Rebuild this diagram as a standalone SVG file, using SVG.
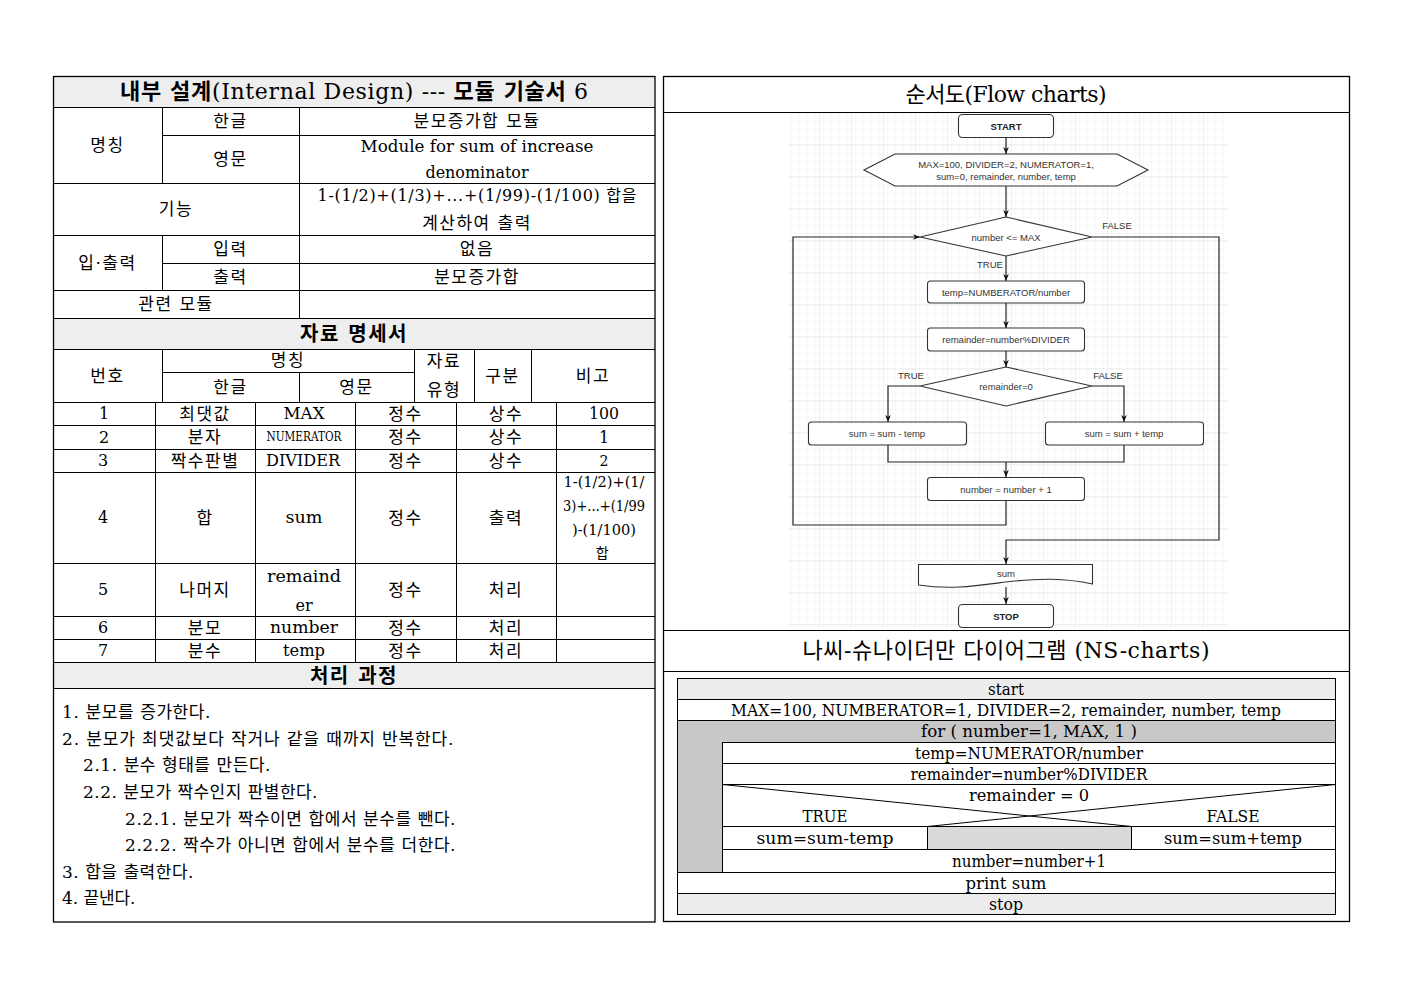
<svg xmlns="http://www.w3.org/2000/svg" width="1403" height="992" viewBox="0 0 1403 992">
<style>
.t{font-family:"DejaVu Serif","Noto Sans CJK KR",serif;font-size:17px;fill:#000;text-anchor:middle;dominant-baseline:central;letter-spacing:1.5px}
.h{font-weight:bold;font-size:20px}
.ti{font-size:22px;letter-spacing:0}
.l{text-anchor:start}
.s{font-size:14px}
.e{font-size:16px;letter-spacing:0}
.ln{stroke:#000;stroke-width:1;fill:none}
.hd{fill:#eeeeee;stroke:none}
.fc{font-family:"Liberation Sans",Arial,sans-serif;font-size:9.5px;fill:#333;text-anchor:middle;dominant-baseline:central}
.fb{font-weight:bold;fill:#222}
.sh{fill:#fff;stroke:#333;stroke-width:1.1}
.cn{fill:none;stroke:#222;stroke-width:1.2}
.ns{font-size:16px;letter-spacing:0}
.nc{stroke:#000;stroke-width:1}
</style>
<defs>
<pattern id="gm" width="8" height="8" patternUnits="userSpaceOnUse" x="788" y="113">
<path d="M8,0 V8 M0,8 H8" stroke="#f1f1f1" stroke-width="1" fill="none"/>
</pattern>
<pattern id="gM" width="32" height="32" patternUnits="userSpaceOnUse" x="788" y="113">
<rect width="32" height="32" fill="url(#gm)"/>
<path d="M32,0 V32 M0,32 H32" stroke="#e3e3e3" stroke-width="1" fill="none"/>
</pattern>
<marker id="ah" viewBox="0 0 10 10" refX="10" refY="5" markerWidth="7" markerHeight="7" markerUnits="userSpaceOnUse" orient="auto">
<path d="M0,1 L10,5 L0,9 L3,5 z" fill="#111"/>
</marker>
</defs>
<rect width="1403" height="992" fill="#fff"/>

<!-- LEFT: module spec -->
<g id="spec-table">
<rect class="hd" x="53" y="76" width="602" height="31"/>
<rect class="hd" x="53" y="318" width="602" height="31"/>
<rect class="hd" x="53" y="662" width="602" height="26"/>
<rect x="53.5" y="76.5" width="601.5" height="845.5" fill="none" stroke="#000" stroke-width="1.3"/>
<path class="ln" d="M53,107.5 H655 M162,135.5 H655 M53,183.5 H655 M53,235.5 H655 M162,263.5 H655 M53,290.5 H655 M53,318.5 H655 M53,349.5 H655 M162,372.5 H414 M53,402.5 H655 M53,425.5 H655 M53,449.5 H655 M53,472.5 H655 M53,563.5 H655 M53,616.5 H655 M53,639.5 H655 M53,662.5 H655 M53,688.5 H655"/>
<path class="ln" d="M162.5,107 V183 M162.5,235 V290 M299.5,107 V318 M162.5,349 V402 M299.5,372 V402 M414.5,349 V402 M474.5,349 V402 M531.5,349 V402 M155.5,402 V662 M255.5,402 V662 M355.5,402 V662 M456.5,402 V662 M556.5,402 V662"/>
<text class="t ti" x="354" y="91" textLength="468" lengthAdjust="spacing"><tspan font-weight="bold">내부 설계</tspan>(Internal Design) --- <tspan font-weight="bold">모듈 기술서</tspan> 6</text>
<text class="t" x="107.5" y="145">명칭</text>
<text class="t" x="230.5" y="121">한글</text>
<text class="t" x="230.5" y="159">영문</text>
<text class="t" x="477" y="121">분모증가합 모듈</text>
<text class="t e" x="477" y="146" textLength="233" lengthAdjust="spacingAndGlyphs">Module for sum of increase</text>
<text class="t e" x="477" y="172" textLength="103" lengthAdjust="spacingAndGlyphs">denominator</text>
<text class="t" x="176" y="209">기능</text>
<text class="t e" x="477" y="195" textLength="319" lengthAdjust="spacing">1-(1/2)+(1/3)+...+(1/99)-(1/100) 합을</text>
<text class="t" x="477" y="223">계산하여 출력</text>
<text class="t" x="107.5" y="263">입·출력</text>
<text class="t" x="230.5" y="249">입력</text>
<text class="t" x="230.5" y="277">출력</text>
<text class="t" x="477" y="249">없음</text>
<text class="t" x="477" y="277">분모증가합</text>
<text class="t" x="176" y="304">관련 모듈</text>
<text class="t h" x="354" y="334">자료 명세서</text>
<text class="t" x="107.5" y="376">번호</text>
<text class="t" x="288" y="360">명칭</text>
<text class="t" x="230.5" y="387">한글</text>
<text class="t" x="356.5" y="387">영문</text>
<text class="t" x="444" y="361">자료</text>
<text class="t" x="444" y="390">유형</text>
<text class="t" x="502.5" y="376">구분</text>
<text class="t" x="593" y="376">비고</text>
<g id="row1">
<text class="t e" x="104" y="413.5">1</text><text class="t" x="205" y="413.5">최댓값</text><text class="t e" x="304" y="413.5" textLength="41" lengthAdjust="spacingAndGlyphs">MAX</text><text class="t" x="405.5" y="413.5">정수</text><text class="t" x="506" y="413.5">상수</text><text class="t e" x="604" y="413.5" textLength="30" lengthAdjust="spacingAndGlyphs">100</text>
</g>
<g id="row2">
<text class="t e" x="104" y="437">2</text><text class="t" x="205" y="437">분자</text><text class="t e" x="304" y="437" style="font-size:12px" textLength="75" lengthAdjust="spacingAndGlyphs">NUMERATOR</text><text class="t" x="405.5" y="437">정수</text><text class="t" x="506" y="437">상수</text><text class="t e" x="604" y="437">1</text>
</g>
<g id="row3">
<text class="t e" x="103" y="460.5">3</text><text class="t" x="205" y="460.5">짝수판별</text><text class="t e" x="303" y="460.5" textLength="74" lengthAdjust="spacingAndGlyphs">DIVIDER</text><text class="t" x="405.5" y="460.5">정수</text><text class="t" x="506" y="460.5">상수</text><text class="t e" x="604" y="460.5" style="font-size:14px">2</text>
</g>
<g id="row4">
<text class="t e" x="103" y="517.5">4</text><text class="t" x="205" y="517.5">합</text><text class="t e" x="304" y="517.5" textLength="37" lengthAdjust="spacingAndGlyphs">sum</text><text class="t" x="405.5" y="517.5">정수</text><text class="t" x="506" y="517.5">출력</text>
<text class="t s e" x="604" y="482" style="font-size:14px" textLength="81" lengthAdjust="spacingAndGlyphs">1-(1/2)+(1/</text>
<text class="t s e" x="604" y="506" style="font-size:14px" textLength="82" lengthAdjust="spacingAndGlyphs">3)+...+(1/99</text>
<text class="t s e" x="604" y="530" style="font-size:14px" textLength="64" lengthAdjust="spacingAndGlyphs">)-(1/100)</text>
<text class="t s" x="603" y="553">합</text>
</g>
<g id="row5">
<text class="t e" x="103" y="589.5">5</text><text class="t" x="205" y="589.5">나머지</text><text class="t e" x="304" y="576" textLength="74" lengthAdjust="spacingAndGlyphs">remaind</text><text class="t e" x="304" y="605">er</text><text class="t" x="405.5" y="589.5">정수</text><text class="t" x="506" y="589.5">처리</text>
</g>
<g id="row6">
<text class="t e" x="103" y="627.5">6</text><text class="t" x="205" y="627.5">분모</text><text class="t e" x="304" y="627.5" textLength="68" lengthAdjust="spacingAndGlyphs">number</text><text class="t" x="405.5" y="627.5">정수</text><text class="t" x="506" y="627.5">처리</text>
</g>
<g id="row7">
<text class="t e" x="103" y="650.5">7</text><text class="t" x="205" y="650.5">분수</text><text class="t e" x="304" y="650.5" textLength="42" lengthAdjust="spacingAndGlyphs">temp</text><text class="t" x="405.5" y="650.5">정수</text><text class="t" x="506" y="650.5">처리</text>
</g>
<text class="t h" x="354" y="675.5">처리 과정</text>
<g id="process">
<text class="t l" x="62" y="711.5" textLength="150" lengthAdjust="spacing">1. 분모를 증가한다.</text>
<text class="t l" x="62" y="738.5" textLength="393" lengthAdjust="spacing">2. 분모가 최댓값보다 작거나 같을 때까지 반복한다.</text>
<text class="t l" x="83" y="765" textLength="189" lengthAdjust="spacing">2.1. 분수 형태를 만든다.</text>
<text class="t l" x="83" y="792" textLength="236" lengthAdjust="spacing">2.2. 분모가 짝수인지 판별한다.</text>
<text class="t l" x="125" y="818.5" textLength="332" lengthAdjust="spacing">2.2.1. 분모가 짝수이면 합에서 분수를 뺀다.</text>
<text class="t l" x="125" y="845" textLength="332" lengthAdjust="spacing">2.2.2. 짝수가 아니면 합에서 분수를 더한다.</text>
<text class="t l" x="62" y="871.5" textLength="133" lengthAdjust="spacing">3. 합을 출력한다.</text>
<text class="t l" x="62" y="898" textLength="75" lengthAdjust="spacing">4. 끝낸다.</text>
</g>
</g>

<!-- RIGHT panel -->
<g id="right-panel">
<rect x="663.5" y="76.5" width="686" height="845" fill="none" stroke="#000" stroke-width="1.3"/>
<path class="ln" d="M663,112.5 H1349 M663,630.5 H1349 M663,671.5 H1349"/>
<text class="t ti" x="1006" y="94" textLength="201" lengthAdjust="spacing">순서도(Flow charts)</text>
<text class="t ti" x="1006" y="650" textLength="407" lengthAdjust="spacing">나씨-슈나이더만 다이어그램 (NS-charts)</text>
</g>

<!-- Flowchart -->
<g id="flowchart">
<rect x="788" y="113" width="439" height="516" fill="url(#gM)"/>
<g id="connectors">
<path class="cn" d="M1006,138 V154" marker-end="url(#ah)"/>
<path class="cn" d="M1006,186 V217" marker-end="url(#ah)"/>
<path class="cn" d="M1092,237 H1219 V540 H1006 V564" marker-end="url(#ah)"/>
<path class="cn" d="M1006,256 V281" marker-end="url(#ah)"/>
<path class="cn" d="M1006,303 V328" marker-end="url(#ah)"/>
<path class="cn" d="M1006,351 V367" marker-end="url(#ah)"/>
<path class="cn" d="M920,386 H888 V422" marker-end="url(#ah)"/>
<path class="cn" d="M1092,386 H1124 V422" marker-end="url(#ah)"/>
<path class="cn" d="M888,445 V462 H1124 V445"/>
<path class="cn" d="M1006,462 V477" marker-end="url(#ah)"/>
<path class="cn" d="M1006,501 V525 H793 V237 H920" marker-end="url(#ah)"/>
<path class="cn" d="M1006,587 V604" marker-end="url(#ah)"/>
<text class="fc" x="1117" y="225">FALSE</text>
<text class="fc" x="990" y="264">TRUE</text>
<text class="fc" x="911" y="375">TRUE</text>
<text class="fc" x="1108" y="375">FALSE</text>
</g>
<g id="fc-start"><rect class="sh" x="958.5" y="114.5" width="95" height="23" rx="4"/><text class="fc fb" x="1006" y="126">START</text></g>
<g id="fc-init"><polygon class="sh" points="864,170 895,154 1117,154 1148,170 1117,186 895,186"/><text class="fc" x="1006" y="164">MAX=100, DIVIDER=2, NUMERATOR=1,</text><text class="fc" x="1006" y="176">sum=0, remainder, number, temp</text></g>
<g id="fc-cond1"><polygon class="sh" points="1006,217 1092,237 1006,256 920,237"/><text class="fc" x="1006" y="237">number &lt;= MAX</text></g>
<g id="fc-temp"><rect class="sh" x="927.5" y="281" width="157" height="22" rx="3"/><text class="fc" x="1006" y="292">temp=NUMBERATOR/number</text></g>
<g id="fc-rem"><rect class="sh" x="927.5" y="328" width="157" height="23" rx="3"/><text class="fc" x="1006" y="339.5">remainder=number%DIVIDER</text></g>
<g id="fc-cond2"><polygon class="sh" points="1006,367 1092,386 1006,406 920,386"/><text class="fc" x="1006" y="386.5">remainder=0</text></g>
<g id="fc-minus"><rect class="sh" x="808.5" y="422" width="158" height="23" rx="3"/><text class="fc" x="887" y="433.5">sum = sum - temp</text></g>
<g id="fc-plus"><rect class="sh" x="1045.5" y="422" width="158" height="23" rx="3"/><text class="fc" x="1124" y="433.5">sum = sum + temp</text></g>
<g id="fc-inc"><rect class="sh" x="927.5" y="477.5" width="157" height="23" rx="3"/><text class="fc" x="1006" y="489">number = number + 1</text></g>
<g id="fc-out"><path class="sh" d="M918.5,564.5 H1092.5 V584 C1065,578 1040,578 1006,582 C975,586 950,590 918.5,585 Z"/><text class="fc" x="1006" y="573">sum</text></g>
<g id="fc-stop"><rect class="sh" x="958.5" y="604.5" width="95" height="23" rx="4"/><text class="fc fb" x="1006" y="616">STOP</text></g>
</g>

<!-- NS chart -->
<g id="ns-chart">
<g id="ns-start"><rect class="nc" x="677.5" y="678.5" width="658" height="21" fill="#ececec"/><text class="t ns" x="1006" y="689" textLength="36" lengthAdjust="spacingAndGlyphs">start</text></g>
<g id="ns-init"><rect class="nc" x="677.5" y="699.5" width="658" height="21" fill="#fff"/><text class="t ns" x="1006" y="710" textLength="550" lengthAdjust="spacingAndGlyphs">MAX=100, NUMBERATOR=1, DIVIDER=2, remainder, number, temp</text></g>
<g id="ns-loop"><path class="nc" d="M677.5,720.5 H1335.5 V742.5 H722.5 V872.5 H677.5 Z" fill="#c8c8c8"/><text class="t ns" x="1029" y="731" textLength="216" lengthAdjust="spacingAndGlyphs">for ( number=1, MAX, 1 )</text></g>
<g id="ns-temp"><rect class="nc" x="722.5" y="742.5" width="613" height="21" fill="#fff"/><text class="t ns" x="1029" y="753" textLength="228" lengthAdjust="spacingAndGlyphs">temp=NUMERATOR/number</text></g>
<g id="ns-rem"><rect class="nc" x="722.5" y="763.5" width="613" height="21" fill="#fff"/><text class="t ns" x="1029" y="774" textLength="237" lengthAdjust="spacingAndGlyphs">remainder=number%DIVIDER</text></g>
<g id="ns-cond"><rect class="nc" x="722.5" y="784.5" width="613" height="42" fill="#fff"/>
<path class="nc" d="M722.5,784.5 L1131.5,826.5 M1335.5,784.5 L927.5,826.5" fill="none"/>
<text class="t ns" x="1029" y="795" textLength="120" lengthAdjust="spacingAndGlyphs">remainder = 0</text>
<text class="t ns" x="825" y="816" textLength="45" lengthAdjust="spacingAndGlyphs">TRUE</text>
<text class="t ns" x="1233" y="816" textLength="53" lengthAdjust="spacingAndGlyphs">FALSE</text></g>
<g id="ns-minus"><rect class="nc" x="722.5" y="826.5" width="205" height="23" fill="#fff"/><text class="t ns" x="825" y="838.5" textLength="137" lengthAdjust="spacingAndGlyphs">sum=sum-temp</text></g>
<g id="ns-empty"><rect class="nc" x="927.5" y="826.5" width="204" height="23" fill="#d9d9d9"/></g>
<g id="ns-plus"><rect class="nc" x="1131.5" y="826.5" width="204" height="23" fill="#fff"/><text class="t ns" x="1233" y="838.5" textLength="138" lengthAdjust="spacingAndGlyphs">sum=sum+temp</text></g>
<g id="ns-inc"><rect class="nc" x="722.5" y="849.5" width="613" height="23" fill="#fff"/><text class="t ns" x="1029" y="861" textLength="154" lengthAdjust="spacingAndGlyphs">number=number+1</text></g>
<g id="ns-print"><rect class="nc" x="677.5" y="872.5" width="658" height="21" fill="#fff"/><text class="t ns" x="1006" y="883" textLength="81" lengthAdjust="spacingAndGlyphs">print sum</text></g>
<g id="ns-stop"><rect class="nc" x="677.5" y="893.5" width="658" height="21" fill="#ececec"/><text class="t ns" x="1006" y="904" textLength="34" lengthAdjust="spacingAndGlyphs">stop</text></g>
</g>
</svg>
